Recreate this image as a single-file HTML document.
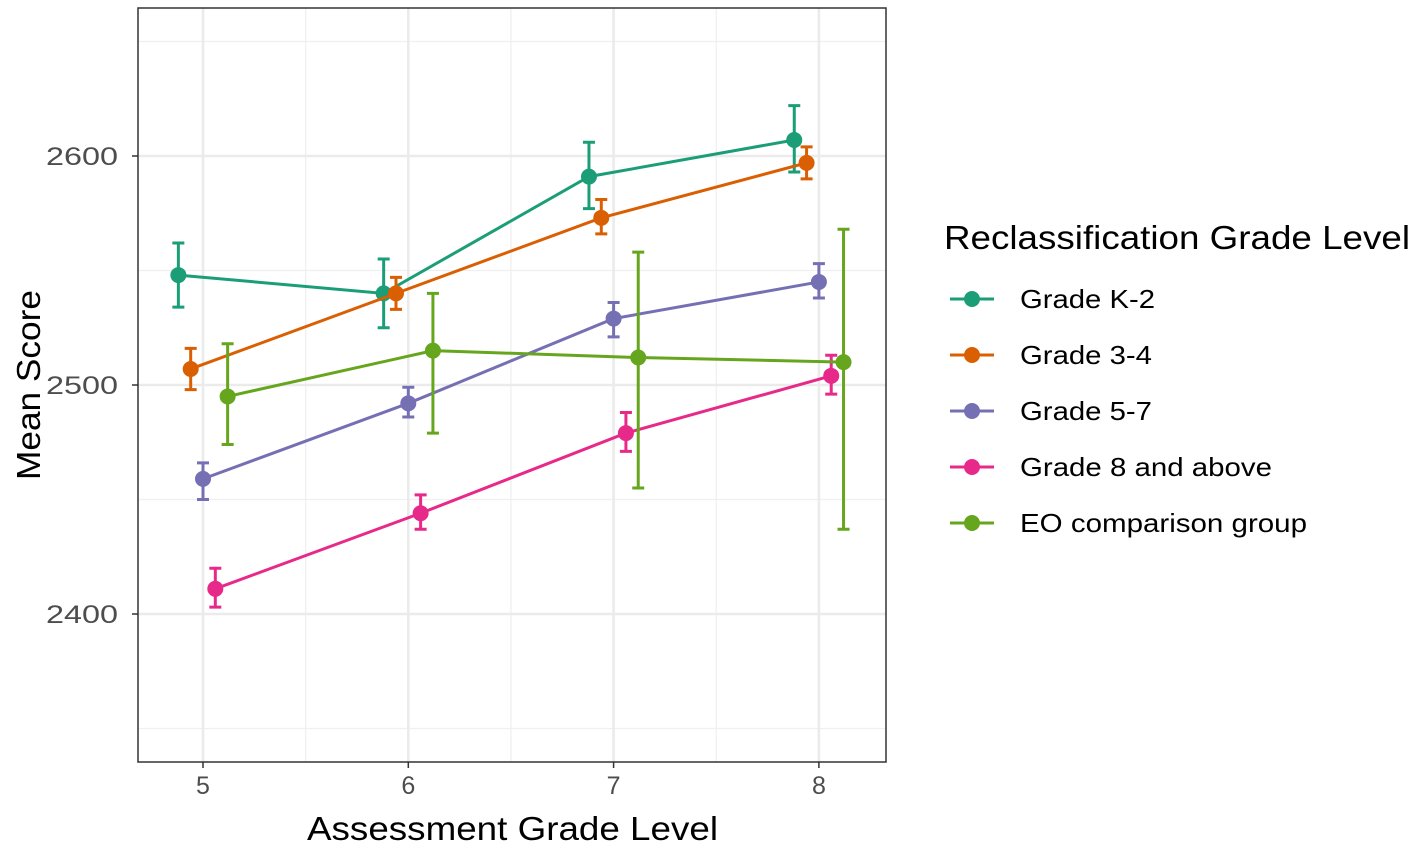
<!DOCTYPE html>
<html><head><meta charset="utf-8"><style>
body{margin:0;background:#fff;}
svg{display:block;font-family:"Liberation Sans",sans-serif;}
</style></head><body>
<svg id="chart" width="1417" height="847">
<g id="grid"></g><g id="marks"></g><g id="axes"></g><g id="legend"></g>
</svg>
<script>
const grades=[5,6,7,8];
const groupNames=["Grade K-2","Grade 3-4","Grade 5-7","Grade 8 and above","EO comparison group"];
const colors=["#1B9E77","#D95F02","#7570B3","#E7298A","#66A61E"];
const k2Mean=[2548,2540,2591,2607];
const k2Lo=[2534,2525,2577,2593];
const k2Hi=[2562,2555,2606,2622];
const g34Mean=[2507,2540,2573,2597];
const g34Lo=[2498,2533,2566,2590];
const g34Hi=[2516,2547,2581,2604];
const g57Mean=[2459,2492,2529,2545];
const g57Lo=[2450,2486,2521,2538];
const g57Hi=[2466,2499,2536,2553];
const g8Mean=[2411,2444,2479,2504];
const g8Lo=[2403,2437,2471,2496];
const g8Hi=[2420,2452,2488,2513];
const eoMean=[2495,2515,2512,2510];
const eoLo=[2474,2479,2455,2437];
const eoHi=[2518,2540,2558,2568];
const yTicks=[2400,2500,2600];
const yMinor=[2350,2450,2550,2650];
const xMinor=[5.5,6.5,7.5];
const dodge=[-0.12,-0.06,0,0.06,0.12];
const legendWidths=[135,132,132,252,287];

const L=138,R=886,T=8,B=762;
const x=v=>203+(v-5)*205.3;
const y=v=>385-(v-2500)*2.29;
const NS="http://www.w3.org/2000/svg";
function mk(tag,attrs,parent,text){const e=document.createElementNS(NS,tag);for(const k in attrs)e.setAttribute(k,attrs[k]);if(text!==undefined)e.textContent=text;parent.appendChild(e);return e;}
const grid=document.getElementById('grid'),marks=document.getElementById('marks'),axes=document.getElementById('axes'),legend=document.getElementById('legend');
mk('rect',{x:L,y:T,width:R-L,height:B-T,fill:'#fff'},grid);
yMinor.forEach(v=>{const l=mk('line',{x1:L,x2:R,y1:y(v),y2:y(v),stroke:'#f0f0f0','stroke-width':1.3},grid);

});
xMinor.forEach(v=>{const l=mk('line',{x1:x(v),x2:x(v),y1:T,y2:B,stroke:'#f0f0f0','stroke-width':1.3},grid);

});
yTicks.forEach(v=>{const l=mk('line',{x1:L,x2:R,y1:y(v),y2:y(v),stroke:'#ebebeb','stroke-width':2.6},grid);

});
grades.forEach(v=>{const l=mk('line',{x1:x(v),x2:x(v),y1:T,y2:B,stroke:'#ebebeb','stroke-width':2.6},grid);

});
const series=[[k2Mean,k2Lo,k2Hi],[g34Mean,g34Lo,g34Hi],[g57Mean,g57Lo,g57Hi],[g8Mean,g8Lo,g8Hi],[eoMean,eoLo,eoHi]];
series.forEach((s,i)=>{
 const [m,lo,hi]=s,c=colors[i];
 const g=mk('g',{},marks);
 
 
 const pts=grades.map((gr,j)=>x(gr+dodge[i])+','+y(m[j])).join(' ');
 const pl=mk('polyline',{points:pts,fill:'none',stroke:c,'stroke-width':3},g);
 
 
 grades.forEach((gr,j)=>{
  const cx=x(gr+dodge[i]);
  const eb=mk('path',{d:`M${cx-6},${y(hi[j])}H${cx+6}M${cx},${y(hi[j])}V${y(lo[j])}M${cx-6},${y(lo[j])}H${cx+6}`,stroke:c,'stroke-width':3,fill:'none'},g);
  
  
  const p=mk('circle',{cx:cx,cy:y(m[j]),r:8,fill:c},g);
  
  
 });
});
mk('rect',{x:L,y:T,width:R-L,height:B-T,fill:'none',stroke:'#333','stroke-width':1.5},axes);
yTicks.forEach(v=>{
 mk('line',{x1:L-6,x2:L,y1:y(v),y2:y(v),stroke:'#333','stroke-width':1.5},axes);
 const t=mk('text',{x:46,y:y(v)+9,'font-size':25,fill:'#4d4d4d',textLength:72,lengthAdjust:'spacingAndGlyphs'},axes,v);
 
 
});
grades.forEach(v=>{
 mk('line',{x1:x(v),x2:x(v),y1:B,y2:B+6,stroke:'#333','stroke-width':1.5},axes);
 const t=mk('text',{x:x(v),y:B+32,'text-anchor':'middle','font-size':25,fill:'#4d4d4d'},axes,v);
 
 
});
const xt=mk('text',{x:307,y:840,'font-size':33,fill:'#000',textLength:411,lengthAdjust:'spacingAndGlyphs'},axes,'Assessment Grade Level');


const yt=mk('text',{x:0,y:0,transform:'translate(40,480) rotate(-90)','font-size':33,fill:'#000',textLength:190,lengthAdjust:'spacingAndGlyphs'},axes,'Mean Score');


const lt=mk('text',{x:944,y:249,'font-size':33,fill:'#000',textLength:466,lengthAdjust:'spacingAndGlyphs'},legend,'Reclassification Grade Level');


groupNames.forEach((n,i)=>{
 const yy=299+i*56;
 const g=mk('g',{},legend);
 
 
 mk('line',{x1:950,x2:994,y1:yy,y2:yy,stroke:colors[i],'stroke-width':3},g);
 mk('circle',{cx:972,cy:yy,r:8,fill:colors[i]},g);
 mk('text',{x:1020,y:yy+9,'font-size':26,fill:'#000',textLength:legendWidths[i],lengthAdjust:'spacingAndGlyphs'},g,n);
});
</script>
</body></html>
